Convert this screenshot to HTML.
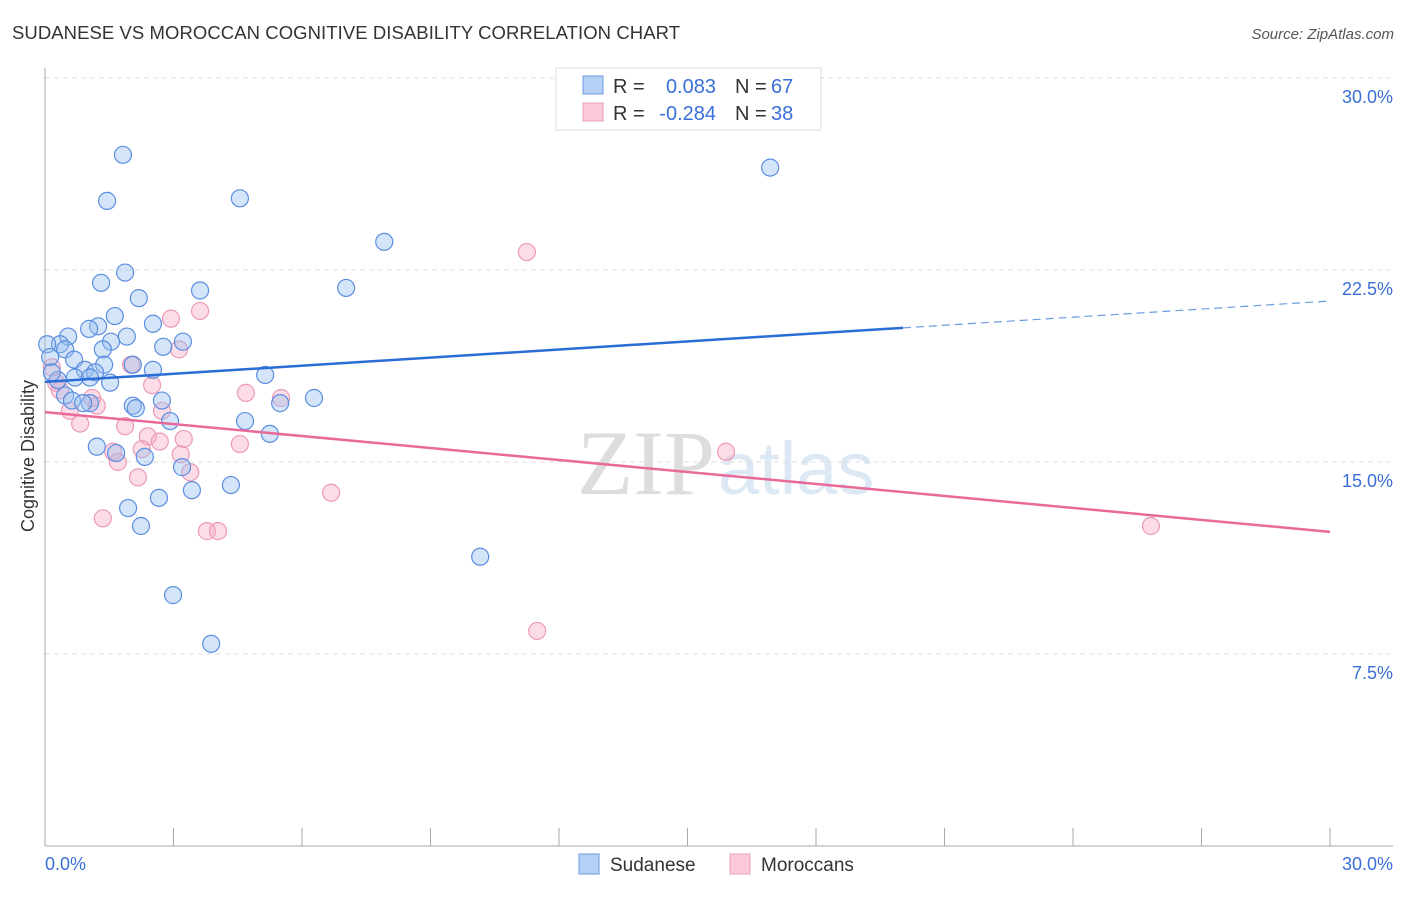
<!DOCTYPE html>
<html><head><meta charset="utf-8"><style>
body{margin:0;background:#fff;font-family:"Liberation Sans",sans-serif}
</style></head><body>
<svg id="c" width="1406" height="892" xmlns="http://www.w3.org/2000/svg">
<text x="12" y="39" font-size="18.5" fill="#333" textLength="668">SUDANESE VS MOROCCAN COGNITIVE DISABILITY CORRELATION CHART</text>
<text x="1394" y="39" font-size="15" fill="#555" font-style="italic" text-anchor="end">Source: ZipAtlas.com</text>
<text x="715" y="494" font-size="92" fill="#ddd" text-anchor="end" font-family="Liberation Serif">ZIP</text>
<text x="718" y="494" font-size="74" fill="#dde8f5">atlas</text>
<text x="34" y="456" font-size="18" fill="#333" text-anchor="middle" transform="rotate(-90 34 456)">Cognitive Disability</text>
<g id="grid"></g><g id="axes"></g><g id="pts"></g><g id="lines"></g>
<g>
<rect x="556" y="68" width="265" height="62" fill="#fff" stroke="#ddd"/>
<rect x="583" y="76" width="20" height="18" fill="#b5d0f5" stroke="#6b9be0"/>
<rect x="583" y="103" width="20" height="18" fill="#fbc9d8" stroke="#eaa0b8"/>
<g font-size="20" fill="#333">
<text x="613" y="93">R =</text><text x="716" y="93" text-anchor="end" fill="#3b6fd8">0.083</text><text x="735" y="93">N =</text><text x="771" y="93" fill="#3b6fd8">67</text>
<text x="613" y="120">R =</text><text x="716" y="120" text-anchor="end" fill="#3b6fd8">-0.284</text><text x="735" y="120">N =</text><text x="771" y="120" fill="#3b6fd8">38</text>
</g>
</g>
<g>
<rect x="579" y="854" width="20" height="20" fill="#b5d0f5" stroke="#6b9be0"/>
<text x="610" y="871" font-size="19" fill="#333">Sudanese</text>
<rect x="730" y="854" width="20" height="20" fill="#fbc9d8" stroke="#eaa0b8"/>
<text x="761" y="871" font-size="19" fill="#333">Moroccans</text>
</g>
</svg>
<script>
const yTicks=[7.5,15,22.5,30];
const yTickLabels=["7.5%","15.0%","22.5%","30.0%"];
const xTickLabels=["0.0%","30.0%"];
const sudX=[1.82,1.45,4.55,16.93,7.92,1.87,1.31,3.62,7.03,2.19,1.63,2.52,1.24,1.03,0.54,1.91,3.22,1.54,2.76,0.35,0.05,1.35,0.47,0.68,0.12,1.38,2.05,0.93,1.17,2.52,5.14,0.7,0.3,1.52,1.05,0.16,0.47,0.63,6.28,5.49,2.73,2.05,2.12,1.05,0.89,2.92,4.67,5.25,1.21,1.66,2.33,3.2,3.43,4.34,2.66,1.94,2.24,10.16,2.99,3.88];
const sudY=[27.0,25.2,25.3,26.5,23.6,22.4,22.0,21.7,21.8,21.4,20.7,20.4,20.3,20.2,19.9,19.9,19.7,19.7,19.5,19.6,19.6,19.4,19.4,19.0,19.1,18.8,18.8,18.6,18.5,18.6,18.4,18.3,18.2,18.1,18.3,18.5,17.6,17.4,17.5,17.3,17.4,17.2,17.1,17.3,17.3,16.6,16.6,16.1,15.6,15.35,15.2,14.8,13.9,14.1,13.6,13.2,12.5,11.3,9.8,7.9];
const morX=[11.25,3.62,2.94,3.13,2.01,0.16,2.5,4.69,5.51,0.35,1.1,1.21,2.73,0.58,0.82,1.87,2.4,3.24,2.68,4.55,2.26,1.59,3.17,15.9,1.7,3.39,2.17,6.68,1.35,3.78,4.04,25.82,11.49,0.26];
const morY=[23.2,20.9,20.6,19.4,18.8,18.7,18.0,17.7,17.5,17.8,17.5,17.2,17.0,17.0,16.5,16.4,16.0,15.9,15.8,15.7,15.5,15.4,15.3,15.4,15.0,14.6,14.4,13.8,12.8,12.3,12.3,12.5,8.4,18.1];
const sudTrend=[18.13,21.29], sudSolidEnd=20.03;
const morTrend=[16.95,12.27];
const NS="http://www.w3.org/2000/svg";
const X=v=>45+v*1285/30, Y=v=>846-v*25.6;
function mk(t,a,p){const e=document.createElementNS(NS,t);for(const k in a)e.setAttribute(k,a[k]);document.getElementById(p).appendChild(e);return e;}
yTicks.forEach((t,i)=>{
 const g=mk('line',{x1:45,x2:1393,y1:Y(t),y2:Y(t),stroke:'#ddd','stroke-dasharray':'5,4'},'grid');
 
 
 const l=mk('text',{x:1393,y:Y(t)+25,'font-size':18,fill:'#3b6fd8','text-anchor':'end'},'axes');
 l.textContent=yTickLabels[i];
 
 
});
const ya=mk('line',{x1:45,x2:45,y1:68,y2:846,stroke:'#aaa'},'axes');


const xa=mk('line',{x1:45,x2:1393,y1:846,y2:846,stroke:'#aaa'},'axes');


for(let i=1;i<=10;i++){const t=mk('line',{x1:X(i*3),x2:X(i*3),y1:828,y2:846,stroke:'#aaa'},'axes');
 
 }
[[0,'start',45],[30,'end',1393]].forEach((d,i)=>{const l=mk('text',{x:d[2],y:870,'font-size':18,fill:'#3b6fd8','text-anchor':d[1]},'axes');l.textContent=xTickLabels[i];
 
 });
morX.forEach((x,i)=>{const c=mk('circle',{cx:X(x),cy:Y(morY[i]),r:8.5,fill:'rgba(247,168,195,0.4)',stroke:'#ec9ab5','stroke-width':1.2},'pts');
 
 });
sudX.forEach((x,i)=>{const c=mk('circle',{cx:X(x),cy:Y(sudY[i]),r:8.5,fill:'rgba(150,190,240,0.4)',stroke:'#5b8ee0','stroke-width':1.2},'pts');
 
 });
const sy=x=>sudTrend[0]+(sudTrend[1]-sudTrend[0])*x/30;
const a=mk('line',{x1:X(0),y1:Y(sy(0)),x2:X(sudSolidEnd),y2:Y(sy(sudSolidEnd)),stroke:'#2a6dd6','stroke-width':2.5},'lines');


const b=mk('line',{x1:X(sudSolidEnd),y1:Y(sy(sudSolidEnd)),x2:X(30),y2:Y(sy(30)),stroke:'#6b9be0','stroke-width':1.2,'stroke-dasharray':'8,5'},'lines');


const m=mk('line',{x1:X(0),y1:Y(morTrend[0]),x2:X(30),y2:Y(morTrend[1]),stroke:'#e8699a','stroke-width':2.5},'lines');


</script>
</body></html>
